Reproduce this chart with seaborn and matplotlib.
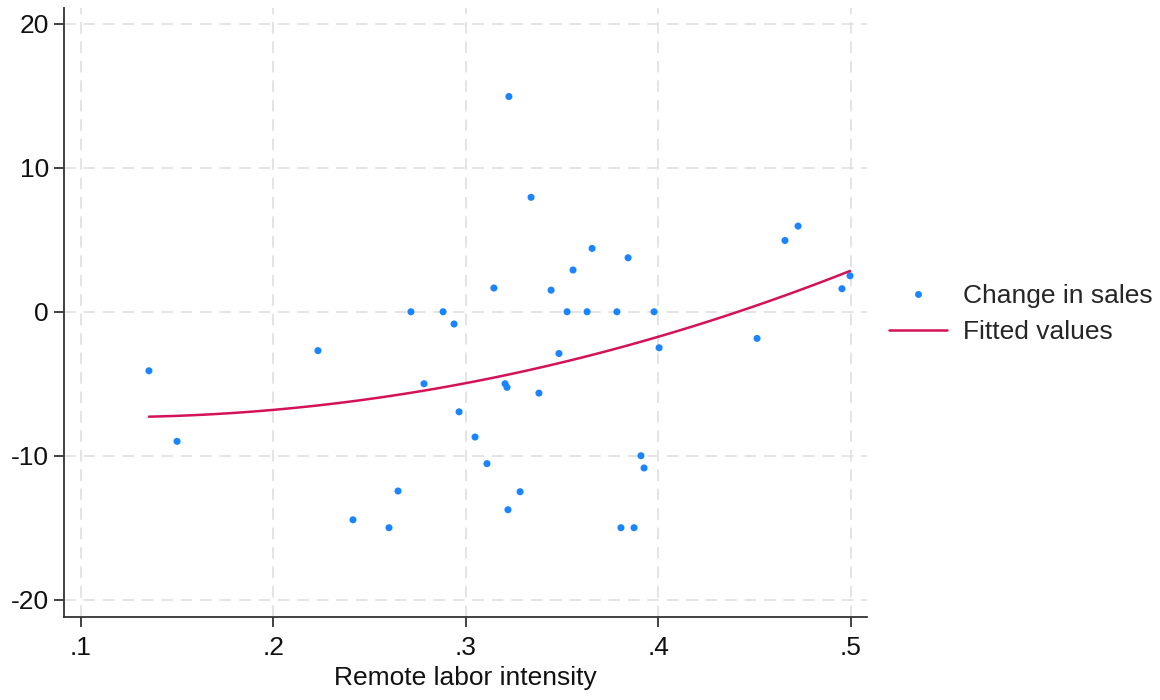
import pandas as pd
import matplotlib
matplotlib.use("Agg")
import matplotlib.pyplot as plt
from matplotlib.lines import Line2D
import seaborn as sns

# ---- data ----
remote_intensity = [0.1353, 0.1499, 0.2231, 0.2413, 0.2600, 0.2647, 0.2714, 0.2782,
                    0.2881, 0.2938, 0.2964, 0.3047, 0.3109, 0.3145, 0.3203, 0.3213,
                    0.3218, 0.3223, 0.3281, 0.3338, 0.3379, 0.3442, 0.3483, 0.3525,
                    0.3556, 0.3629, 0.3655, 0.3784, 0.3805, 0.3842, 0.3873, 0.3909,
                    0.3925, 0.3977, 0.4003, 0.4512, 0.4657, 0.4725, 0.4953, 0.4995]
sales_change = [-4.1, -9.0, -2.7, -14.45, -15.0, -12.45, 0.0, -5.0,
                0.0, -0.85, -6.95, -8.7, -10.55, 1.65, -5.0, -5.25,
                -13.75, 14.95, -12.5, 7.95, -5.65, 1.5, -2.9, 0.0,
                2.9, 0.0, 4.4, 0.0, -15.0, 3.75, -15.0, -10.0,
                -10.85, 0.0, -2.5, -1.85, 4.95, 5.95, 1.6, 2.5]

x_ticks = [0.1, 0.2, 0.3, 0.4, 0.5]
x_tick_labels = [".1", ".2", ".3", ".4", ".5"]
y_ticks = [-20, -10, 0, 10, 20]
y_tick_labels = ["-20", "-10", "0", "10", "20"]

df = pd.DataFrame({"remote": remote_intensity, "sales": sales_change})

sns.set_style("ticks")
plt.rcParams["font.family"] = ["Liberation Sans", "DejaVu Sans"]
plt.rcParams["axes.unicode_minus"] = False

blue = "#1a85ff"
red = "#d41159"
fs = 19

fig = plt.figure(figsize=(11.6, 7), dpi=100)
ax = fig.add_axes([0.0552, 0.1186, 0.6922, 0.87])

# grid first so it sits under the marks
ax.set_axisbelow(True)
ax.grid(True, color="#e4e4e4", linestyle=(0, (6, 4)), linewidth=1.4)

sns.scatterplot(data=df, x="remote", y="sales", color=blue, s=26,
                edgecolor="none", legend=False, ax=ax, zorder=3)
# quadratic fit, like Stata's qfit
sns.regplot(data=df, x="remote", y="sales", order=2, ci=None, scatter=False,
            color=red, line_kws={"lw": 1.8, "zorder": 4}, ax=ax)

ax.set_xlim(0.0912, 0.5083)
ax.set_ylim(-21.2, 21.1)
ax.set_xticks(x_ticks)
ax.set_xticklabels(x_tick_labels)
ax.set_yticks(y_ticks)
ax.set_yticklabels(y_tick_labels)
ax.tick_params(axis="both", length=7, width=1.2, color="#222222",
               labelsize=fs, labelcolor="#111111")
ax.tick_params(axis="x", pad=7)
ax.tick_params(axis="y", pad=4)

ax.set_xlabel("Remote labor intensity", fontsize=fs, color="#111111", labelpad=4)
ax.set_ylabel("")

sns.despine(ax=ax)
for side in ["left", "bottom"]:
    ax.spines[side].set_color("#333333")
    ax.spines[side].set_linewidth(1.3)

handles = [
    Line2D([], [], marker="o", linestyle="none", color=blue, markersize=5,
           markeredgewidth=0),
    Line2D([], [], color=red, lw=1.8),
]
ax.legend(handles, ["Change in sales", "Fitted values"], loc="center left",
          bbox_to_anchor=(1.027, 0.497), frameon=False, fontsize=fs,
          handlelength=2.2, handletextpad=0.6, labelspacing=0.45,
          borderpad=0, borderaxespad=0)

plt.savefig("out.png", dpi=100)
